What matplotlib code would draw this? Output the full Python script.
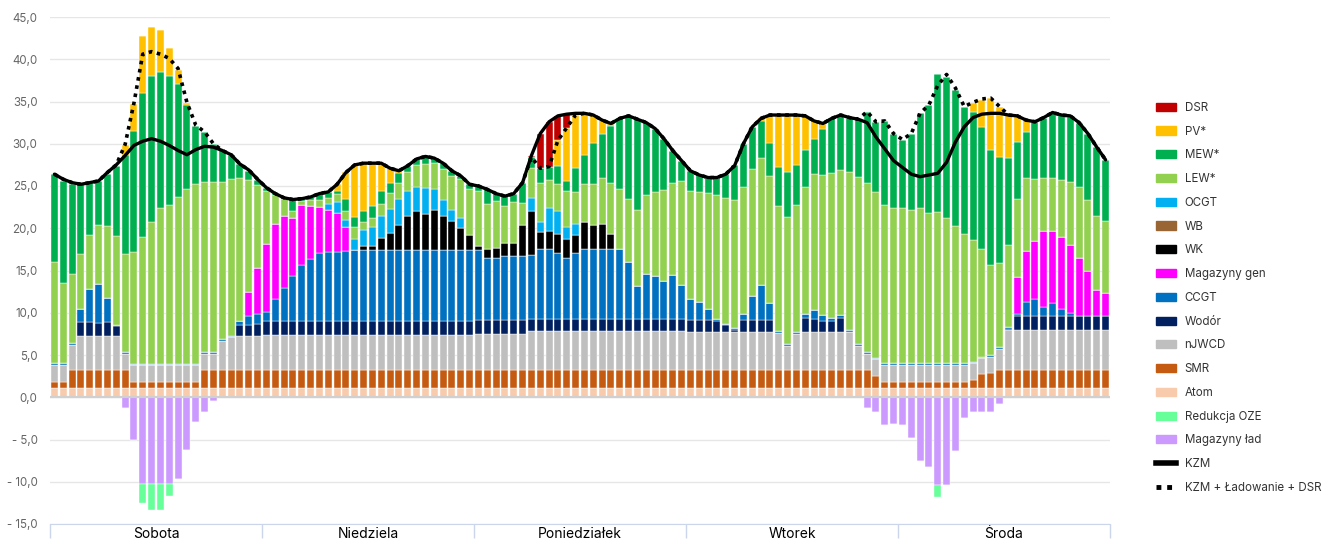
import numpy as np
import matplotlib.pyplot as plt
from matplotlib.patches import Patch
from matplotlib.lines import Line2D

plt.rcParams['font.family'] = ['Inter', 'DejaVu Sans']

days = ['Sobota', 'Niedziela', 'Poniedziałek', 'Wtorek', 'Środa']

# hourly values, GW (5 days x 24 h)
atom = [1.1] * 120
smr = ([0.7, 0.7] + [2.1] * 7 + [0.7] * 8 + [2.1] * 7 +
       [2.1] * 24 +
       [2.1] * 24 +
       [2.1] * 21 + [1.4, 0.7, 0.7] +
       [0.7] * 8 + [1.0, 1.6, 1.8] + [2.1] * 13)
njwcd = ([2.0, 2.0, 3.0, 4.0, 4.0, 4.0, 4.0, 4.0, 1.9, 2.0, 2.0, 2.0, 2.0, 2.0, 2.0, 2.0, 2.0, 1.9, 1.9, 3.5, 3.9, 4.0, 4.0, 4.0] +
         [4.2] * 24 +
         [4.3] * 6 + [4.6] * 18 +
         [4.5] * 10 + [4.4, 2.9, 4.3, 4.5, 4.5, 4.5, 4.5, 4.5, 4.5, 2.9, 1.9, 2.0, 2.0, 2.0] +
         [2.0] * 8 + [1.9, 1.9, 1.9, 2.5] + [4.7] * 12)
wodor = ([0, 0, 0, 1.7, 1.7, 1.6, 1.7, 1.2, 0, 0, 0, 0, 0, 0, 0, 0, 0, 0, 0, 0, 0, 1.4, 1.4, 1.5] +
         [1.6] * 24 +
         [1.6] * 6 + [1.5] * 18 +
         [1.5, 1.5, 1.5, 1.3, 0.8, 0.3, 1.5, 1.5, 1.5, 1.5, 0, 0, 0, 1.7, 1.6, 1.3, 1.3, 1.7, 0, 0, 0, 0, 0, 0] +
         [0] * 12 + [0.2] + [1.7] * 11)
ccgt = [0.2, 0.2, 0.2, 1.6, 3.9, 4.6, 2.8, 0.2, 0.2, 0.15, 0.15, 0.15, 0.15, 0.15, 0.15, 0.15, 0.15, 0.2, 0.2, 0.2, 0.2, 0.4, 1.0, 1.1,
        1.1, 2.6, 3.9, 5.4, 6.6, 7.4, 8.1, 8.2, 8.2, 8.3, 8.4, 8.4, 8.4, 8.4, 8.4, 8.4, 8.4, 8.4, 8.4, 8.4, 8.4, 8.4, 8.4, 8.4,
        8.3, 7.4, 7.4, 7.6, 7.6, 7.6, 7.5, 8.2, 8.3, 7.8, 7.2, 7.8, 8.2, 8.3, 8.3, 8.3, 8.3, 6.7, 3.9, 5.3, 5.1, 4.5, 5.2, 4.0,
        2.4, 2.1, 1.3, 0.3, 0.2, 0.2, 0.6, 2.8, 4.1, 1.9, 0.2, 0.2, 0.2, 0.4, 1.0, 0.7, 0.4, 0.3, 0.2, 0.2, 0.2, 0.2, 0.2, 0.2,
        0.2, 0.2, 0.2, 0.2, 0.2, 0.2, 0.2, 0.2, 0.2, 0.2, 0.2, 0.2, 0.2, 0.2, 1.7, 2.0, 1.1, 1.6, 0.9, 0.4, 0, 0, 0, 0]
mag_gen = ([0] * 22 + [2.9, 5.5] +
           [8.0, 8.9, 8.6, 6.8, 7.1, 6.2, 5.4, 5.0, 4.6, 2.9] + [0] * 14 +
           [0] * 24 +
           [0] * 24 +
           [0] * 13 + [4.4, 6.0, 6.9, 9.0, 8.5, 8.5, 8.0, 6.9, 5.3, 3.1, 2.7])
wk = ([0] * 24 +
      [0] * 11 + [0.5, 0.5, 1.4, 2.0, 3.0, 4.0, 4.6, 4.3, 4.8, 4.1, 3.5, 2.6, 1.8] +
      [0.5, 1.1, 1.2, 1.5, 1.5, 3.7, 5.2, 2.1, 2.1, 2.2, 2.2, 2.1, 3.2, 2.8, 2.9, 1.7] + [0] * 8 +
      [0] * 24 +
      [0] * 24)
wb = [0] * 120
ocgt = ([0] * 24 +
        [0] * 7 + [0.7, 1.3, 0.8, 1.3, 1.9, 2.2, 2.7, 2.9, 3.1, 3.0, 2.9, 3.1, 2.4, 1.8, 1.3, 1.2, 0] +
        [0] * 6 + [1.6, 1.1, 2.7, 2.7, 1.4, 1.3] + [0] * 12 +
        [0] * 24 +
        [0] * 24)
lew = [12.0, 9.5, 8.2, 6.5, 6.4, 7.0, 8.6, 10.5, 11.7, 13.2, 15.0, 16.8, 18.4, 18.8, 19.7, 20.7, 21.3, 20.2, 20.2, 18.6, 18.5, 16.9, 13.2, 9.8,
       6.3, 3.4, 2.0, 0.9, 0.5, 0.7, 0.9, 0.7, 1.0, 1.1, 1.5, 0.9, 1.1, 1.4, 1.9, 1.9, 2.2, 2.6, 2.8, 3.1, 3.7, 4.0, 4.6, 5.4,
       6.5, 5.3, 5.5, 4.4, 4.9, 2.6, 3.5, 4.7, 3.3, 3.2, 4.3, 3.8, 4.5, 4.8, 5.5, 6.1, 7.0, 7.5, 9.0, 9.3, 9.9, 10.7, 10.9, 12.3,
       12.8, 13.0, 13.7, 14.6, 14.9, 15.2, 15.1, 15.0, 15.0, 15.1, 14.8, 15.0, 15.0, 15.1, 16.1, 16.6, 17.1, 17.2, 18.7, 19.8, 20.1, 19.6, 18.8, 18.4,
       18.4, 18.2, 18.4, 17.8, 17.9, 17.2, 16.3, 15.3, 14.4, 12.7, 10.7, 10.0, 9.7, 9.3, 8.6, 7.3, 6.3, 6.3, 6.7, 7.5, 8.4, 8.5, 8.7, 8.5]
mew = [10.4, 12.1, 10.6, 8.2, 6.2, 5.2, 6.1, 8.3, 11.7, 14.3, 17.1, 17.3, 16.2, 15.3, 13.4, 9.9, 6.9, 5.9, 4.5, 3.8, 2.9, 1.7, 1.1, 0.6,
       0.4, 0.3, 0.2, 1.3, 0.3, 0.4, 0.7, 0.7, 0.3, 1.4, 1.1, 1.3, 1.4, 1.5, 1.2, 1.1, 0.8, 0.7, 0.9, 0.6, 0.7, 0.6, 0.4, 0.6,
       0.6, 1.7, 0.9, 1.2, 1.0, 2.4, 1.3, 1.7, 1.6, 2.2, 1.2, 2.8, 3.5, 4.9, 5.2, 6.7, 8.4, 9.8, 10.7, 8.6, 7.5, 6.1, 3.8, 2.4,
       2.4, 2.0, 1.8, 2.1, 2.8, 4.1, 5.1, 5.0, 4.4, 3.9, 4.7, 5.3, 4.8, 4.4, 4.2, 5.5, 6.5, 6.5, 6.5, 6.8, 8.4, 8.3, 9.9, 8.8,
       8.1, 9.0, 11.2, 12.8, 16.4, 16.7, 16.1, 15.0, 15.1, 14.5, 13.6, 12.5, 10.3, 6.7, 5.5, 6.8, 7.1, 7.7, 7.7, 7.8, 7.6, 7.8, 8.2, 7.3]
pv = ([0] * 8 + [1.1, 3.2, 6.7, 5.8, 4.9, 3.3, 1.7, 0.3] + [0] * 8 +
      [0] * 8 + [0.8, 3.1, 6.2, 5.7, 5.1, 3.3, 1.7, 0.3] + [0] * 8 +
      [0] * 9 + [3.0, 6.3, 6.3, 4.9, 3.3, 1.6, 0.3] + [0] * 8 +
      [0] * 8 + [0.3, 3.3, 6.1, 6.8, 5.9, 4.0, 2.1, 0.6] + [0] * 8 +
      [0] * 8 + [1.1, 3.2, 6.1, 6.0, 5.1, 3.1, 1.4] + [0] * 9)
dsr = ([0] * 24 + [0] * 24 +
       [0] * 6 + [0.2, 4.1, 5.3, 2.9, 1.6, 0.2] + [0] * 12 +
       [0] * 24 + [0] * 24)
# negative side
mag_lad = ([0] * 8 + [1.3, 5.0, 10.3, 10.3, 10.3, 10.3, 9.7, 6.2, 2.9, 1.7, 0.4] + [0] * 5 +
           [0] * 24 + [0] * 24 +
           [0] * 20 + [1.3, 1.8, 3.3, 3.2] +
           [3.3, 4.8, 7.5, 8.3, 10.4, 10.4, 6.4, 2.4, 1.8, 1.8, 1.8, 0.8] + [0] * 12)
redukcja = ([0] * 10 + [2.2, 3.1, 3.1, 1.4] + [0] * 10 +
            [0] * 24 + [0] * 24 + [0] * 24 +
            [0] * 4 + [1.4] + [0] * 19)

kzm = [26.4, 25.8, 25.4, 25.2, 25.4, 25.6, 26.6, 27.5, 28.6, 29.8, 30.3, 30.6, 30.3, 29.8, 29.2, 28.7, 29.3, 29.7, 29.6, 29.2, 28.7, 27.6, 26.9, 25.8,
       24.8, 24.1, 23.6, 23.4, 23.5, 23.7, 24.1, 24.3, 25.2, 26.6, 27.5, 27.7, 27.7, 27.7, 27.1, 26.8, 27.4, 28.2, 28.5, 28.3, 27.7, 26.8, 26.2, 25.2,
       25.0, 24.6, 24.1, 23.8, 24.1, 25.4, 28.6, 31.2, 32.6, 33.3, 33.5, 33.6, 33.6, 33.4, 32.8, 32.4, 33.0, 33.3, 32.9, 32.5, 31.8, 30.6, 29.2, 28.0,
       26.8, 26.3, 26.0, 26.0, 26.4, 27.4, 30.0, 32.0, 33.0, 33.4, 33.4, 33.4, 33.4, 33.3, 32.7, 32.4, 33.0, 33.4, 33.1, 32.9, 32.5, 30.8, 29.4, 28.0,
       27.2, 26.4, 26.1, 26.3, 26.5, 27.8, 30.2, 32.0, 33.1, 33.5, 33.6, 33.6, 33.4, 33.3, 32.8, 32.6, 33.1, 33.7, 33.4, 33.3, 32.5, 31.2, 29.6, 28.1]
kzm_lad = [26.4, 25.8, 25.4, 25.2, 25.4, 25.6, 26.6, 27.5, 29.9, 34.8, 40.6, 40.9, 40.6, 40.1, 38.9, 34.9, 32.2, 31.4, 30.0, 29.2, 28.7, 27.6, 26.9, 25.8,
           24.8, 24.1, 23.6, 23.4, 23.5, 23.7, 24.1, 24.3, 25.2, 26.6, 27.5, 27.7, 27.7, 27.7, 27.1, 26.8, 27.4, 28.2, 28.5, 28.3, 27.7, 26.8, 26.2, 25.2,
           25.0, 24.6, 24.1, 23.8, 24.1, 25.4, 28.4, 27.1, 27.3, 30.4, 31.9, 33.4, 33.6, 33.4, 32.8, 32.4, 33.0, 33.3, 32.9, 32.5, 31.8, 30.6, 29.2, 28.0,
           26.8, 26.3, 26.0, 26.0, 26.4, 27.4, 30.0, 32.0, 33.0, 33.4, 33.4, 33.4, 33.4, 33.3, 32.7, 32.4, 33.0, 33.4, 33.1, 32.9, 33.8, 32.6, 32.7, 31.2,
           30.5, 31.2, 33.6, 34.6, 36.9, 38.2, 36.6, 34.4, 34.9, 35.3, 35.4, 34.4, 33.4, 33.3, 32.8, 32.6, 33.1, 33.7, 33.4, 33.3, 32.5, 31.2, 29.6, 28.1]

# stacking order bottom -> top
stack = [
    ('Atom', atom, '#F8CBAD'),
    ('SMR', smr, '#C55A11'),
    ('nJWCD', njwcd, '#BFBFBF'),
    ('Wodór', wodor, '#002060'),
    ('CCGT', ccgt, '#0070C0'),
    ('Magazyny gen', mag_gen, '#FF00FF'),
    ('WK', wk, '#000000'),
    ('WB', wb, '#996633'),
    ('OCGT', ocgt, '#00B0F0'),
    ('LEW*', lew, '#92D050'),
    ('MEW*', mew, '#00B050'),
    ('PV*', pv, '#FFC000'),
    ('DSR', dsr, '#C00000'),
]
col_lad = '#CC99FF'
col_red = '#66FF99'

fig = plt.figure(figsize=(13.27, 5.41), dpi=100)
ax = fig.add_axes([50 / 1327, 17 / 541, 1060 / 1327, 507 / 541])

x = np.arange(120)
w = 0.78
bottom = np.zeros(120)
for name, vals, col in stack:
    v = np.array(vals, dtype=float)
    ax.bar(x, v, w, bottom=bottom, color=col, edgecolor='white', linewidth=0.3, zorder=2)
    bottom += v

lad = np.array(mag_lad, dtype=float)
ax.bar(x, -lad, w, color=col_lad, edgecolor='white', linewidth=0.3, zorder=2)
ax.bar(x, -np.array(redukcja, dtype=float), w, bottom=-lad, color=col_red,
       edgecolor='white', linewidth=0.3, zorder=2)

ax.plot(x, kzm, color='black', lw=2.4, zorder=4, solid_capstyle='round')
ax.plot(x, kzm_lad, color='black', lw=2.6, linestyle=(0, (1, 1.3)), zorder=5)

ax.axhline(0, color='#d0d0d0', lw=1.6, zorder=3)

ax.set_xlim(-0.5, 119.5)
ax.set_ylim(-15, 45)
yt = np.arange(-15, 46, 5)
ax.set_yticks(yt)
ax.set_yticklabels([(f'- {abs(v):.1f}' if v < 0 else f'{v:.1f}').replace('.', ',') for v in yt],
                   fontsize=8.3, color='#666666')
ax.yaxis.grid(True, color='#e6e6e6', lw=1, zorder=0)
ax.set_axisbelow(True)
ax.tick_params(axis='y', length=0, pad=9)

bounds = np.arange(-0.5, 120, 24)
ax.set_xticks(bounds)
ax.set_xticklabels([''] * len(bounds))
ax.tick_params(axis='x', which='major', length=10, color='#ccd6eb', width=1)
ax.set_xticks(np.arange(11.5, 120, 24), minor=True)
ax.set_xticklabels(days, minor=True, fontsize=7.8, color='#333333')
ax.tick_params(axis='x', which='minor', length=0, pad=2)

for s in ['top', 'right', 'left']:
    ax.spines[s].set_visible(False)
ax.spines['bottom'].set_color('#ccd6eb')
ax.spines['bottom'].set_position(('data', -15))

handles = [Patch(color=c, label=n) for n, _, c in stack[::-1]]
handles += [Patch(color=col_red, label='Redukcja OZE'), Patch(color=col_lad, label='Magazyny ład')]
handles += [Line2D([], [], color='black', lw=4, label='KZM'),
            Line2D([], [], color='black', lw=3.5, linestyle=(0, (1, 1.2)), label='KZM + Ładowanie + DSR')]
fig.legend(handles=handles, loc='upper left', bbox_to_anchor=(1150 / 1327, 1 - 96 / 541),
           frameon=False, fontsize=8.3, labelspacing=1.02, handlelength=1.75, handleheight=0.7,
           handletextpad=0.75, borderpad=0, labelcolor='#333333')

fig.savefig('out.png', dpi=100)
